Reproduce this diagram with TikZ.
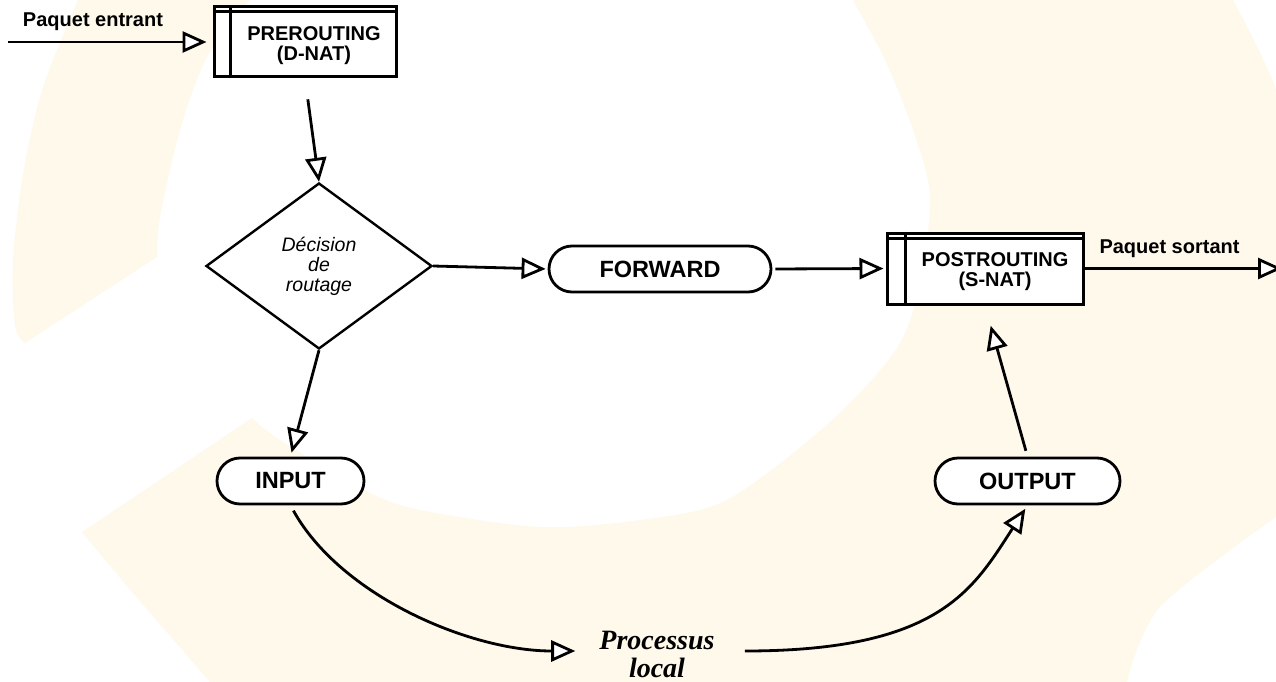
\documentclass[tikz,border=0pt]{standalone}
\usepackage{fontspec}
\setmainfont{Liberation Sans}
\newfontfamily\timesfam{Liberation Serif}
\usetikzlibrary{arrows.meta,shapes.geometric}
\definecolor{cream}{RGB}{255,249,236}
\begin{document}
\begin{tikzpicture}[x=1pt,y=-1pt,
  conn/.style={line width=2.8pt,-{Triangle[length=24pt,width=21pt,fill=white]}},
  procbox/.style={draw,line width=3pt,fill=white,inner sep=0pt},
  boxline/.style={line width=2.6pt},
  boxtext/.style={font=\fontsize{20}{20}\selectfont\bfseries,align=center,inner sep=0pt},
  stadium/.style={draw,line width=2.8pt,fill=white,rounded corners=23pt,minimum height=46pt,inner sep=0pt,font=\fontsize{23.5}{24}\selectfont\bfseries},
  lbl/.style={font=\fontsize{20}{20}\selectfont\bfseries,inner sep=0pt},
  decision/.style={diamond,draw,line width=2.4pt,fill=white,minimum width=226pt,minimum height=166pt,inner sep=0pt,align=center,font=\fontsize{19.5}{20}\selectfont\itshape},
  procf/.style={font=\fontsize{28}{29}\selectfont\timesfam\bfseries\itshape,inner sep=0pt,anchor=base}]
\fill[white] (0,0) rectangle (1276,682);
\useasboundingbox (0,0) rectangle (1276,682);
% background watermark
\begin{scope}
\clip (0,0) rectangle (1276,682);
\fill[cream] (78,0) -- (250,0) -- plot[smooth] coordinates {(250,0) (207,57) (180,130) (160,217) (157,257)}
  -- (25,343) -- plot[smooth] coordinates {(25,343) (15,326) (13,261) (23,174) (43,87) (78,0)} -- cycle;
\fill[cream] (252,418) -- plot[smooth] coordinates {(252,418) (280,440) (364,490) (420,510) (540,527) (640,520) (727,500) (830,422) (897,348) (920,283) (930,196) (913,130) (885,60) (853,0)}
  -- (1233,0) -- plot[smooth] coordinates {(1233,0) (1276,90) (1300,200) (1305,330) (1295,450) (1276,517)}
  -- plot[smooth] coordinates {(1276,517) (1160,607) (1127,682)}
  -- (210,682) -- plot[smooth] coordinates {(210,682) (133,593) (82,532)} -- cycle;
\end{scope}
% nodes
\node[procbox,minimum width=182pt,minimum height=70pt] (pre) at (305,42) {};
\draw[boxline] ([xshift=18pt]pre.north west) -- ([xshift=18pt]pre.south west);
\draw[boxline] ([yshift=-6pt]pre.north west) -- ([yshift=-6pt]pre.north east);
\node[boxtext] (pretxt) at (314,45.5) {PREROUTING\\(D-NAT)};

\node[procbox,minimum width=196pt,minimum height=71pt] (post) at (985,268.5) {};
\draw[boxline] ([xshift=20pt]post.north west) -- ([xshift=20pt]post.south west);
\draw[boxline] ([yshift=-7pt]post.north west) -- ([yshift=-7pt]post.north east);
\node[boxtext] (posttxt) at (995,272) {POSTROUTING\\(S-NAT)};

\node[decision] (dec) at (319,266) {Décision\\de\\routage};
\node[stadium,minimum width=222pt] (fwd) at (660,269) {FORWARD};
\node[stadium,minimum width=147pt] (inp) at (290.5,481) {INPUT};
\node[stadium,minimum width=185pt] (outp) at (1027.5,481) {OUTPUT};

\node[procf] (proc) at (657,649) {Processus};
\node[procf] (procl) at (657,677) {local};

\node[lbl] (pin) at (93,22) {Paquet entrant};
\node[lbl] (pout) at (1169.5,249) {Paquet sortant};

\coordinate (inL) at (8,42);
\coordinate (outR) at (1282,268.5);

% connectors
\draw[conn,shorten >=6pt] (inL) -- (pre.west);
\draw[conn,shorten <=21pt] (pre.south) -- (dec.north);
\draw[conn,shorten >=2pt] (dec.east) -- (fwd.west);
\draw[conn,shorten <=3pt,shorten >=2pt] (fwd.east) -- (post.west);
\draw[conn] (post.east) -- (outR);
\draw[conn,shorten >=4pt] (dec.south) -- (inp.north);
\draw[conn,shorten <=6pt,shorten >=21pt] (outp.north) -- (post.south);
\draw[conn,shorten <=6pt,shorten >=24pt] (inp.south) .. controls +(50,90) and +(-130,0) .. ([yshift=-2pt]proc.base west);
\draw[conn,shorten <=30pt,shorten >=4pt] ([yshift=-2pt]proc.base east) .. controls +(225,0) and +(-54.5,84) .. (outp.south);
\end{tikzpicture}
\end{document}
